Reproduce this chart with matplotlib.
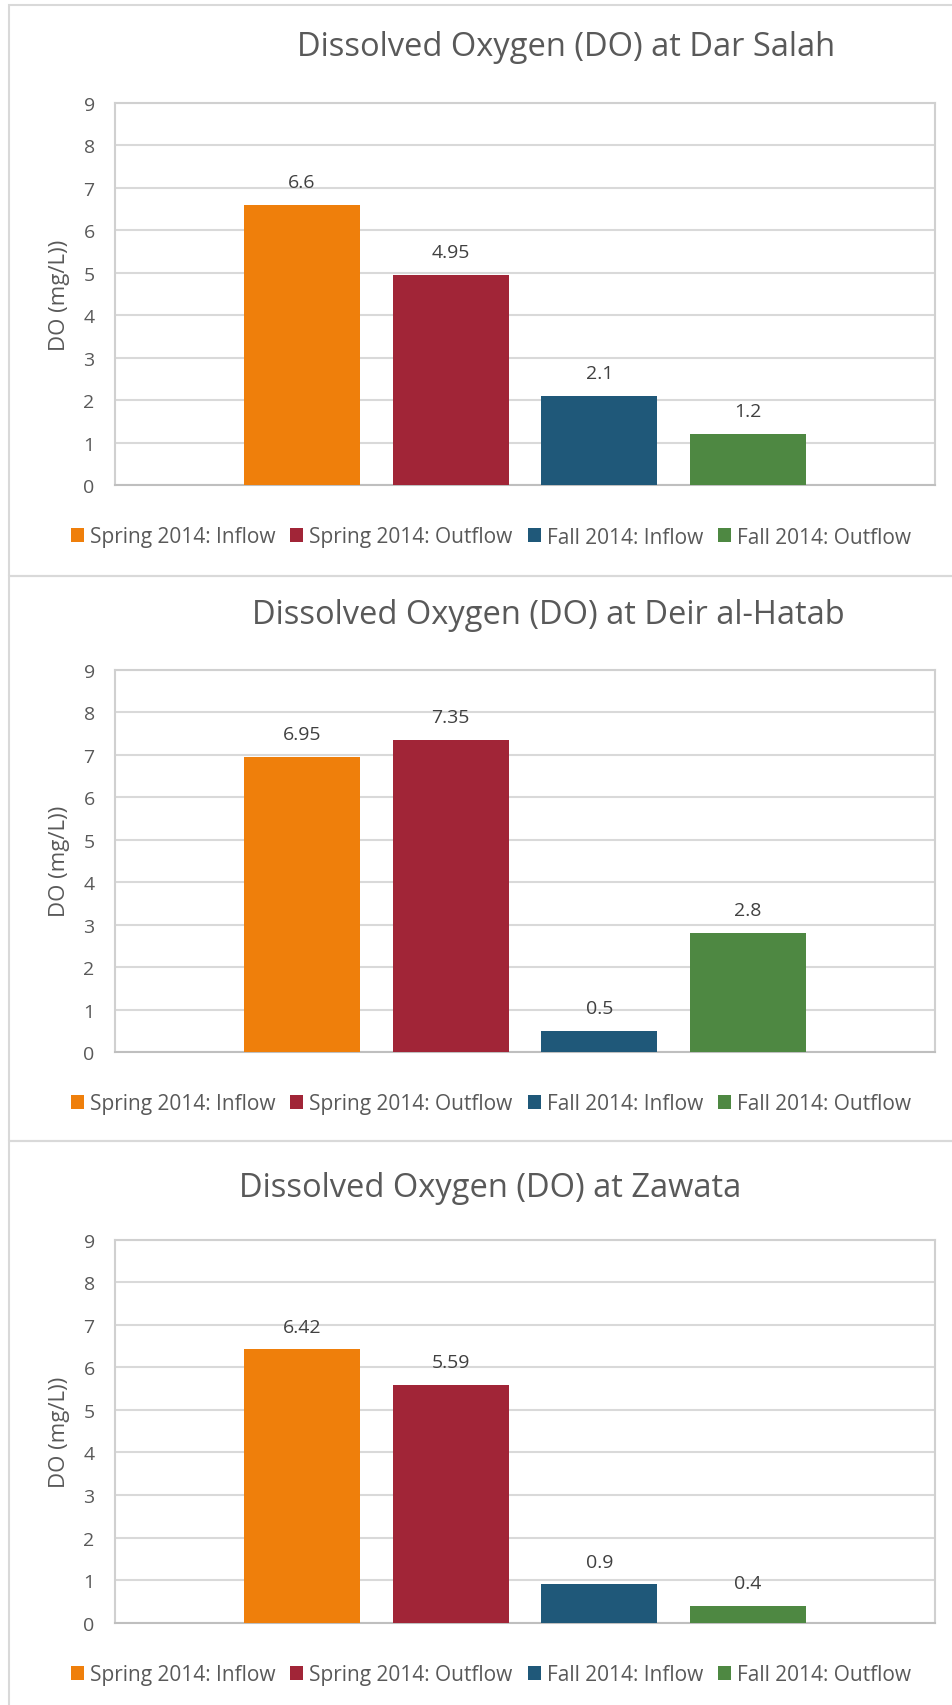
import numpy as np
import matplotlib
matplotlib.use('Agg')
import matplotlib.pyplot as plt
from matplotlib.patches import Rectangle

plt.rcParams['font.family'] = ['Open Sans', 'DejaVu Sans']

# data
series = ['Spring 2014: Inflow', 'Spring 2014: Outflow', 'Fall 2014: Inflow', 'Fall 2014: Outflow']
sites = ['Dar Salah', 'Deir al-Hatab', 'Zawata']
do_dar_salah = [6.6, 4.95, 2.1, 1.2]
do_deir_al_hatab = [6.95, 7.35, 0.5, 2.8]
do_zawata = [6.42, 5.59, 0.9, 0.4]
y_ticks = [0, 1, 2, 3, 4, 5, 6, 7, 8, 9]

color_list = ['#EF7F0B', '#A12537', '#1F5879', '#4E8842']

# figure is 953 x 1706 px, everything below in px from top left
W, H = 953, 1706
plot_settings = {'plotsize': (W / 100, H / 100),
                 'ax_left': 115.5, 'ax_right': 935,
                 'bar_width': 0.78,
                 'x_lim': (-1.256, 4.26),
                 'y_lim': (0, 9)}

# per panel: top of panel, y of 9 line, y of 0 line, title pos, legend y
panels = [{'top': 5.7, 'bottom': 577, 'y9': 104, 'y0': 486, 'title_xy': (566, 48), 'legend_y': 538},
          {'top': 577, 'bottom': 1142, 'y9': 670.6, 'y0': 1053, 'title_xy': (548, 616), 'legend_y': 1104.6},
          {'top': 1142, 'bottom': 1712, 'y9': 1240.7, 'y0': 1623.7, 'title_xy': (490, 1189), 'legend_y': 1676}]

site_values = [do_dar_salah, do_deir_al_hatab, do_zawata]


def fx(px):
    return px / W


def fy(px):
    return 1 - px / H


def do_panel(fig, panel, site, values):
    # outer frame of the excel chart
    fig.patches.append(Rectangle((fx(9), fy(panel['bottom'])), fx(W + 10) - fx(9),
                                 fy(panel['top']) - fy(panel['bottom']), transform=fig.transFigure,
                                 fill=False, edgecolor='#D9D9D9', linewidth=1.5))

    left = fx(plot_settings['ax_left'])
    width = fx(plot_settings['ax_right']) - left
    bottom = fy(panel['y0'])
    height = fy(panel['y9']) - bottom
    ax = fig.add_axes([left, bottom, width, height])

    x = np.arange(len(values))
    for i in range(len(values)):
        bars = ax.bar(x[i], values[i], width=plot_settings['bar_width'], color=color_list[i],
                      label=series[i], zorder=3)
        ax.bar_label(bars, labels=[str(values[i])], padding=10, fontsize=14, color='#404040')

    ax.set_xlim(plot_settings['x_lim'])
    ax.set_ylim(plot_settings['y_lim'])
    ax.set_yticks(y_ticks)
    ax.set_xticks([])
    ax.tick_params(axis='y', length=0, pad=15, labelsize=14, labelcolor='#595959')

    # grid
    ax.grid(True, axis='y', color='#D9D9D9', linewidth=1.5, zorder=0)
    for s in ax.spines.values():
        s.set_color('#D0D0D0')
        s.set_linewidth(1.5)
    ax.spines['bottom'].set_color('#BFBFBF')

    ax.set_ylabel('DO (mg/L))', fontsize=16, color='#595959')
    ax.yaxis.label.set_verticalalignment('center')
    ax.yaxis.set_label_coords((59 - plot_settings['ax_left']) / (plot_settings['ax_right'] - plot_settings['ax_left']), 0.5)

    tx, ty = panel['title_xy']
    fig.text(fx(tx), fy(ty), 'Dissolved Oxygen (DO) at ' + site, fontsize=23.5, color='#595959',
             ha='center', va='center')

    ax.legend(loc='center', bbox_to_anchor=(fx(491), fy(panel['legend_y'])), bbox_transform=fig.transFigure,
              ncol=4, frameon=False, fontsize=15, labelcolor='#595959',
              handlelength=0.62, handleheight=0.62, handletextpad=0.3, columnspacing=0.72,
              borderpad=0, borderaxespad=0)
    return ax


fig = plt.figure(figsize=plot_settings['plotsize'], dpi=100)
for panel, site, values in zip(panels, sites, site_values):
    do_panel(fig, panel, site, values)

plt.savefig('out.png', dpi=100)
